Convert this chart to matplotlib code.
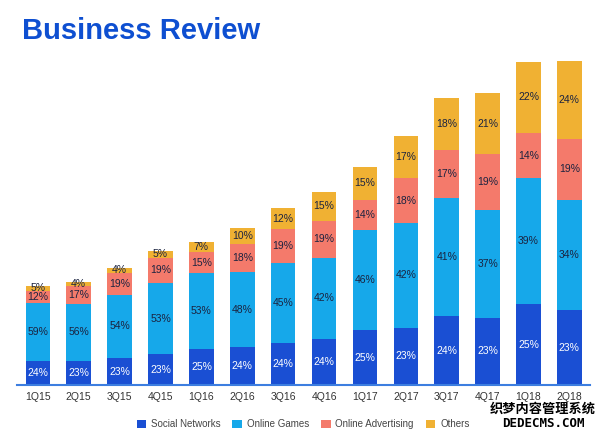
import numpy as np
import matplotlib.pyplot as plt

quarters = ["1Q15", "2Q15", "3Q15", "4Q15", "1Q16", "2Q16", "3Q16",
            "4Q16", "1Q17", "2Q17", "3Q17", "4Q17", "1Q18", "2Q18"]
# total bar height (relative revenue)
totals = [99, 103, 117, 134, 143, 157, 177, 193, 218, 249, 287, 292, 323, 324]
social = [24, 23, 23, 23, 25, 24, 24, 24, 25, 23, 24, 23, 25, 23]
games = [59, 56, 54, 53, 53, 48, 45, 42, 46, 42, 41, 37, 39, 34]
advert = [12, 17, 19, 19, 15, 18, 19, 19, 14, 18, 17, 19, 14, 19]
others = [5, 4, 4, 5, 7, 10, 12, 15, 15, 17, 18, 21, 22, 24]

series = [("Social Networks", social, "#1a4fd3", "white"),
          ("Online Games", games, "#16a8ea", "#1b2340"),
          ("Online Advertising", advert, "#f47a6b", "#1b2340"),
          ("Others", others, "#f0b133", "#1b2340")]

fig = plt.figure(figsize=(6, 4.36), dpi=100)
ax = fig.add_axes([0.029, 0.117, 0.954, 0.757])

x = np.arange(len(quarters))
tot = np.array(totals, dtype=float)
bottom = np.zeros(len(x))
for name, pct, color, tcolor in series:
    h = tot * np.array(pct) / 100
    ax.bar(x, h, 0.6, bottom=bottom, color=color, label=name, linewidth=0)
    for xi, b, hi, p in zip(x, bottom, h, pct):
        ax.text(xi, b + hi / 2, f"{p}%", ha="center", va="center",
                fontsize=7.5, color=tcolor, family="Liberation Sans")
    bottom += h

ax.set_xlim(-0.5, len(x) - 0.5)
ax.set_ylim(0, 330)
ax.set_xticks(x)
ax.set_xticklabels(quarters, fontsize=7.5, color="#333333", family="Liberation Sans")
ax.tick_params(axis="x", length=0, pad=5)
ax.set_yticks([])
for s in ["top", "left", "right"]:
    ax.spines[s].set_visible(False)
ax.spines["bottom"].set_color("#3d7ee0")
ax.spines["bottom"].set_linewidth(1.5)

fig.text(0.037, 0.93, "Business Review", fontsize=21, fontweight="bold",
         color="#0e4fd1", family="Liberation Sans", va="center")

leg = fig.legend(loc="center", bbox_to_anchor=(0.505, 0.027), ncol=4, frameon=False,
                 handlelength=1.0, handleheight=1.0, handletextpad=0.5, columnspacing=1.2,
                 prop={"family": "Liberation Sans", "size": 7})
for t in leg.get_texts():
    t.set_color("#444444")

fig.text(0.905, 0.063, "织梦内容管理系统", fontsize=9.5, fontweight="bold",
         family=["Noto Sans CJK SC", "DejaVu Sans"], ha="center", va="center")
fig.text(0.905, 0.028, "DEDECMS.COM", fontsize=9, fontweight="bold",
         family="DejaVu Sans Mono", ha="center", va="center")

fig.savefig("out.png", dpi=100)
